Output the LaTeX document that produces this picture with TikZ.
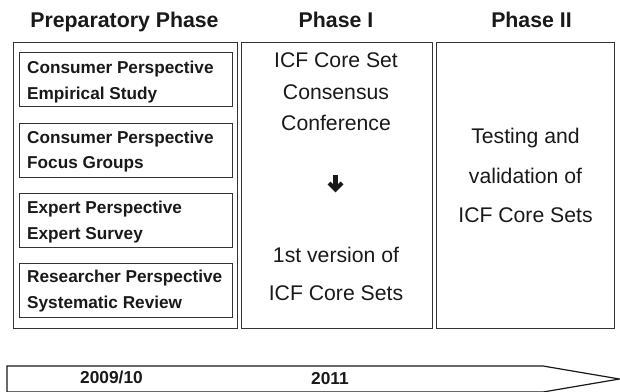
\documentclass[tikz,border=0pt]{standalone}
\usepackage{fontspec}
\setmainfont{Liberation Sans}
\usetikzlibrary{calc}
\begin{document}
\begin{tikzpicture}[x=1pt,y=-1pt,
  hdr/.style={font=\fontsize{21.3}{24}\selectfont\bfseries, inner sep=0pt, anchor=base, text=black!90},
  lbl/.style={font=\fontsize{17.2}{20}\selectfont\bfseries, inner sep=0pt, anchor=base west, text=black!90},
  reg/.style={font=\fontsize{21.2}{24}\selectfont, inner sep=0pt, anchor=base, text=black!90},
  yr/.style={font=\fontsize{17.3}{20}\selectfont\bfseries, inner sep=0pt, anchor=base, text=black!90},
  outer/.style={draw=black!80, line width=1pt, inner sep=0pt, anchor=north west},
  inner/.style={draw=black!80, line width=1.2pt, inner sep=0pt, anchor=north west, minimum width=213pt, minimum height=54pt}
]
\useasboundingbox (0,0) rectangle (620,391);
\clip (0,0) rectangle (620,391);

% headers
\node[hdr] (h0) at (124.5,27) {Preparatory Phase};
\node[hdr] (h1) at (336,27) {Phase I};
\node[hdr] (h2) at (531.5,27) {Phase II};

% outer boxes
\node[outer, minimum width=223.5pt, minimum height=286pt] (o1) at (13,42) {};
\node[outer, minimum width=191pt, minimum height=286pt] (o2) at (241,42) {};
\node[outer, minimum width=178pt, minimum height=286pt] (o3) at (436,42) {};

% inner boxes
\node[inner] (b1) at (19,52) {};
\node[inner] (b2) at (19,122.5) {};
\node[inner] (b3) at (19,193) {};
\node[inner] (b4) at (19,262.5) {};

\node[lbl] (t1a) at (27,73) {Consumer Perspective};
\node[lbl] (t1b) at (27,99) {Empirical Study};
\node[lbl] (t2a) at (27,143) {Consumer Perspective};
\node[lbl] (t2b) at (27,168.5) {Focus Groups};
\node[lbl] (t3a) at (27,213) {Expert Perspective};
\node[lbl] (t3b) at (27,239) {Expert Survey};
\node[lbl] (t4a) at (27,282.5) {Researcher Perspective};
\node[lbl] (t4b) at (27,308.5) {Systematic Review};

% phase I
\node[reg] (p1a) at (336,67) {ICF Core Set};
\node[reg] (p1b) at (336,99) {Consensus};
\node[reg] (p1c) at (336,130) {Conference};
\node[reg] (p1d) at (336,262) {1st version of};
\node[reg] (p1e) at (336,300) {ICF Core Sets};
\coordinate (ar) at (335.5,175);
\draw[black!90, line width=4.2pt] (ar) -- ++(0,14);
\draw[black!90, line width=4.2pt, line join=miter, miter limit=10] ($(ar)+(-6.5,8)$) -- ($(ar)+(0,14.5)$) -- ($(ar)+(6.5,8)$);

% phase II
\node[reg] (p2a) at (525.5,143) {Testing and};
\node[reg] (p2b) at (525.5,183) {validation of};
\node[reg] (p2c) at (525.5,222) {ICF Core Sets};

% timeline arrow
\coordinate (tl) at (7,366);
\coordinate (tk) at (543,366);
\coordinate (tip) at (619.5,379);
\coordinate (bk) at (543,392);
\coordinate (bl) at (7,392);
\draw[black!90, line width=1.2pt] (bl) -- (tl) -- (tk) -- (tip) -- (bk) -- cycle;
\node[yr] (y1) at (111.5,383.5) {2009/10};
\node[yr] (y2) at (330,384) {2011};
\end{tikzpicture}
\end{document}
